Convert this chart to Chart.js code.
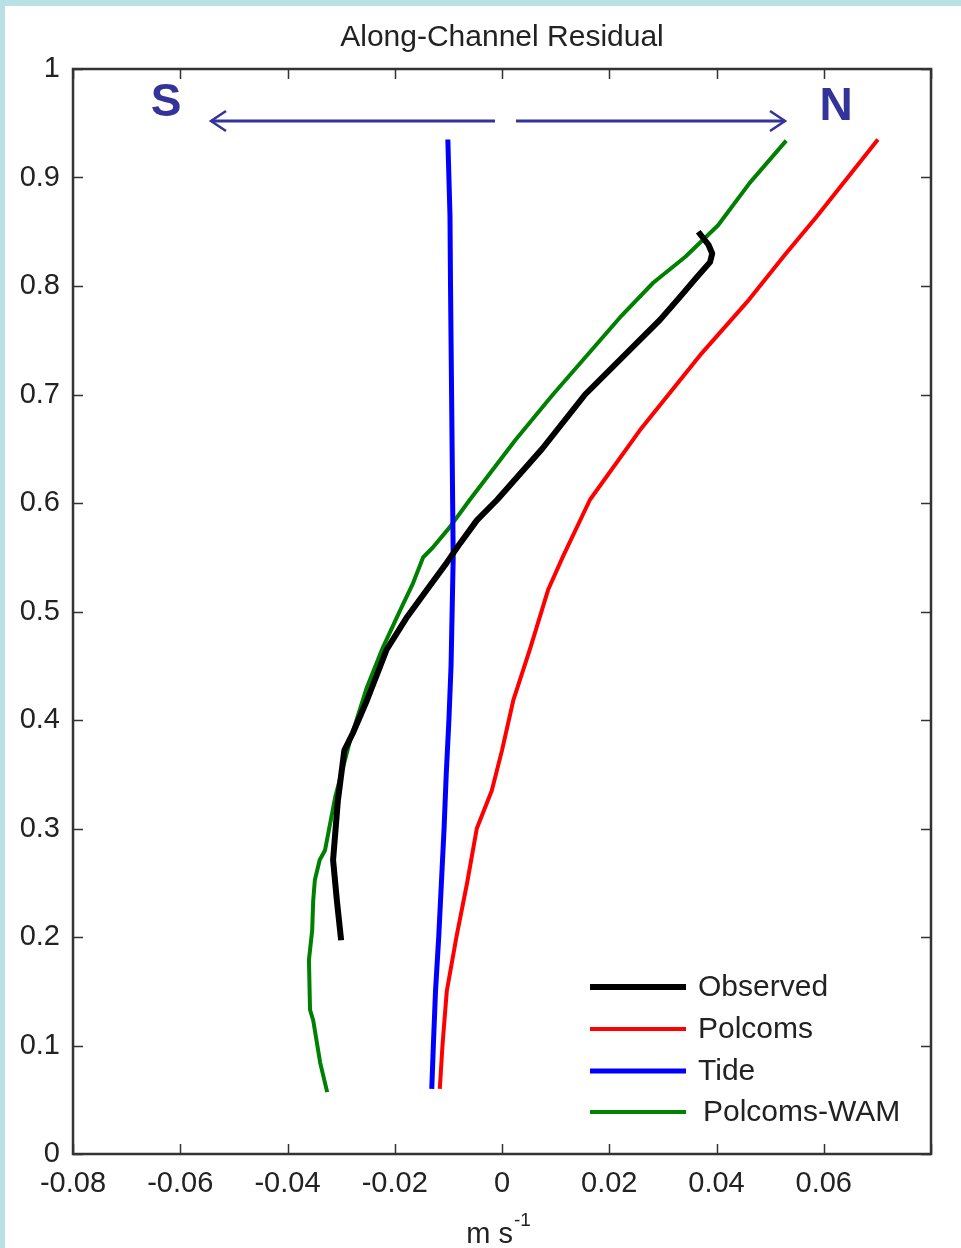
<!DOCTYPE html>
<html>
<head>
<meta charset="utf-8">
<title>Along-Channel Residual</title>
<script src="https://cdn.jsdelivr.net/npm/chart.js@4.4.1/dist/chart.umd.min.js"></script>
<style>
  html, body { margin: 0; padding: 0; background: #fff; }
  #wrap { position: relative; width: 961px; height: 1248px; }
</style>
</head>
<body>
<div id="wrap"><canvas id="resid"></canvas></div>
<script>
// depth fraction (y) and along-channel velocity in m/s (x) for each profile
const obsDepth = [0.197, 0.234, 0.271, 0.326, 0.372, 0.388, 0.418, 0.465, 0.495, 0.520, 0.545, 0.563, 0.584, 0.603, 0.650, 0.700, 0.769, 0.790, 0.808, 0.822, 0.830, 0.838, 0.850];
const obsVel   = [-0.0300, -0.0308, -0.0315, -0.0306, -0.0294, -0.0278, -0.0252, -0.0215, -0.0177, -0.0140, -0.0103, -0.0078, -0.0047, -0.0009, 0.0075, 0.0155, 0.0295, 0.0332, 0.0363, 0.0388, 0.0392, 0.0385, 0.0366];

const polDepth = [0.06, 0.10, 0.15, 0.20, 0.25, 0.30, 0.335, 0.372, 0.418, 0.465, 0.520, 0.551, 0.603, 0.667, 0.736, 0.787, 0.829, 0.864, 0.935];
const polVel   = [-0.0116, -0.0111, -0.0103, -0.0085, -0.0065, -0.0047, -0.0019, 0.0000, 0.0021, 0.0052, 0.0086, 0.0114, 0.0164, 0.0257, 0.0369, 0.0460, 0.0528, 0.0587, 0.0701];

const tideDepth = [0.06, 0.10, 0.15, 0.20, 0.25, 0.30, 0.35, 0.40, 0.45, 0.50, 0.55, 0.60, 0.70, 0.80, 0.865, 0.935];
const tideVel   = [-0.0131, -0.0128, -0.0124, -0.0118, -0.0113, -0.0108, -0.0104, -0.0099, -0.0095, -0.0093, -0.0091, -0.0092, -0.0094, -0.0096, -0.0097, -0.0101];

const wamDepth = [0.057, 0.084, 0.123, 0.133, 0.179, 0.206, 0.234, 0.2525, 0.271, 0.280, 0.329, 0.3816, 0.430, 0.467, 0.501, 0.526, 0.550, 0.559, 0.578, 0.603, 0.658, 0.700, 0.771, 0.803, 0.827, 0.856, 0.895, 0.934];
const wamVel   = [-0.0326, -0.0339, -0.0352, -0.0358, -0.0360, -0.0354, -0.0352, -0.0349, -0.0340, -0.0330, -0.0311, -0.0283, -0.0252, -0.0222, -0.0190, -0.0166, -0.0147, -0.0129, -0.0097, -0.0060, 0.0025, 0.0095, 0.0220, 0.0282, 0.0342, 0.0403, 0.0462, 0.0530];

const seriesNames = ['Observed', 'Polcoms', 'Tide', 'Polcoms-WAM'];
const seriesColors = ['#000000', '#ff0000', '#0000ff', '#008000'];
const seriesWidths = [6, 4, 5, 4];

const xMin = -0.08, xMax = 0.08, xStep = 0.02;
const yMin = 0, yMax = 1, yStep = 0.1;

const FONT = '"Liberation Sans", Arial, sans-serif';
const TEXT = '#222';
const AXIS = '#333';
const NAVY = '#333399';

function toPoints(xs, ys) {
  return xs.map((x, i) => ({ x, y: ys[i] }));
}

function fmt(v) {
  const n = Number(v.toFixed(2));
  return n === 0 ? '0' : String(n);
}

// frame, inward ticks on all four sides, title, legend, S/N arrows
const matlabLook = {
  id: 'matlabLook',
  beforeDraw(chart) {
    const c = chart.ctx;
    c.save();
    c.fillStyle = '#fff';
    c.fillRect(0, 0, chart.width, chart.height);
    c.fillStyle = '#b9e0e4';
    c.fillRect(0, 0, chart.width, 6);
    c.fillRect(0, 0, 5, chart.height);
    c.restore();
  },
  afterDatasetsDraw(chart) {
    const c = chart.ctx;
    const a = chart.chartArea;
    const xs = chart.scales.x, ys = chart.scales.y;
    c.save();

    // box
    c.strokeStyle = AXIS;
    c.lineWidth = 2.5;
    c.strokeRect(a.left, a.top, a.right - a.left, a.bottom - a.top);

    // ticks pointing inward
    const len = 10;
    c.beginPath();
    xs.ticks.forEach(t => {
      const px = Math.round(xs.getPixelForValue(t.value)) + 0.5;
      c.moveTo(px, a.bottom); c.lineTo(px, a.bottom - len);
      c.moveTo(px, a.top); c.lineTo(px, a.top + len);
    });
    ys.ticks.forEach(t => {
      const py = Math.round(ys.getPixelForValue(t.value)) + 0.5;
      c.moveTo(a.left, py); c.lineTo(a.left + len, py);
      c.moveTo(a.right, py); c.lineTo(a.right - len, py);
    });
    c.lineWidth = 1.5;
    c.stroke();

    // title
    c.fillStyle = TEXT;
    c.font = '30px ' + FONT;
    c.textAlign = 'center';
    c.textBaseline = 'alphabetic';
    c.fillText('Along-Channel Residual', (a.left + a.right) / 2, 46);

    // x axis label with superscript
    c.font = '29px ' + FONT;
    c.textAlign = 'left';
    const base = 'm s';
    const bw = c.measureText(base).width;
    c.font = '19px ' + FONT;
    const sw = c.measureText('-1').width;
    const x0 = 498 - (bw + sw) / 2;
    c.font = '29px ' + FONT;
    c.fillText(base, x0, 1243);
    c.font = '19px ' + FONT;
    c.fillText('-1', x0 + bw + 1, 1226);

    // legend
    const legY = [987, 1029, 1071, 1112];
    c.textBaseline = 'middle';
    c.font = '30px ' + FONT;
    chart.data.datasets.forEach((ds, i) => {
      c.beginPath();
      c.strokeStyle = ds.borderColor;
      c.lineWidth = ds.borderWidth;
      c.moveTo(590, legY[i]);
      c.lineTo(686, legY[i]);
      c.stroke();
      c.fillStyle = TEXT;
      c.fillText(ds.label, i === 3 ? 703 : 698, legY[i] + 1);
    });

    // S / N direction arrows
    c.fillStyle = NAVY;
    c.strokeStyle = NAVY;
    c.font = 'bold 46px ' + FONT;
    c.textAlign = 'center';
    c.fillText('S', 166, 103);
    c.fillText('N', 836, 107);
    c.lineWidth = 3;
    c.beginPath();
    c.moveTo(211, 121); c.lineTo(495, 121);
    c.moveTo(516, 121); c.lineTo(785, 121);
    c.stroke();
    c.lineWidth = 2.5;
    c.beginPath();
    c.moveTo(226, 111); c.lineTo(211, 121); c.lineTo(226, 131);
    c.moveTo(770, 111); c.lineTo(785, 121); c.lineTo(770, 131);
    c.stroke();

    c.restore();
  }
};

const profiles = [
  toPoints(obsVel, obsDepth),
  toPoints(polVel, polDepth),
  toPoints(tideVel, tideDepth),
  toPoints(wamVel, wamDepth)
];

new Chart(document.getElementById('resid'), {
  type: 'scatter',
  data: {
    datasets: profiles.map((pts, i) => ({
      label: seriesNames[i],
      data: pts,
      showLine: true,
      borderColor: seriesColors[i],
      backgroundColor: seriesColors[i],
      borderWidth: seriesWidths[i],
      pointRadius: 0,
      tension: 0,
      borderJoinStyle: 'round',
      borderCapStyle: 'butt'
    }))
  },
  options: {
    responsive: true,
    maintainAspectRatio: false,
    animation: false,
    events: [],
    layout: { padding: { top: 69, right: 30, left: 0, bottom: 0 } },
    plugins: {
      legend: { display: false },
      title: { display: false },
      tooltip: { enabled: false }
    },
    scales: {
      x: {
        type: 'linear',
        min: xMin, max: xMax,
        afterFit(s) { s.height = 94; },
        afterBuildTicks(s) {
          s.ticks = [];
          for (let v = xMin; v <= xMax + 1e-9; v += xStep) s.ticks.push({ value: Number(v.toFixed(2)) });
        },
        ticks: {
          font: { family: FONT, size: 29 },
          color: TEXT,
          padding: 13,
          maxRotation: 0,
          autoSkip: false,
          callback: v => (Math.abs(v - xMax) < 1e-9 ? '' : fmt(v))
        },
        grid: { display: false, drawTicks: false },
        border: { display: false }
      },
      y: {
        type: 'linear',
        min: yMin, max: yMax,
        afterFit(s) { s.width = 73; },
        afterBuildTicks(s) {
          s.ticks = [];
          for (let v = yMin; v <= yMax + 1e-9; v += yStep) s.ticks.push({ value: Number(v.toFixed(1)) });
        },
        ticks: {
          font: { family: FONT, size: 29 },
          color: TEXT,
          padding: 13,
          autoSkip: false,
          callback: v => fmt(v)
        },
        grid: { display: false, drawTicks: false },
        border: { display: false }
      }
    }
  },
  plugins: [matlabLook]
});
</script>
</body>
</html>
